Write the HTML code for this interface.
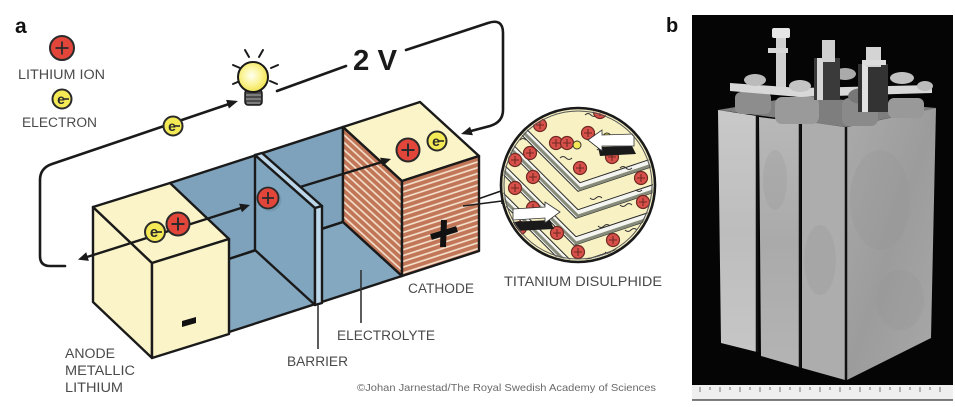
<!DOCTYPE html>
<html><head><meta charset="utf-8">
<style>
html,body{margin:0;padding:0;background:#fff;}
svg{display:block;}
text{font-family:"Liberation Sans",sans-serif;}
</style></head>
<body>
<svg width="955" height="407" viewBox="0 0 955 407" xmlns="http://www.w3.org/2000/svg">
<defs>
  <pattern id="stripeF" width="10" height="5.5" patternUnits="userSpaceOnUse" patternTransform="rotate(-18)">
    <rect width="10" height="5.5" fill="#c27658"/>
    <rect y="3.8" width="10" height="1.6" fill="#f6e4d0"/>
  </pattern>
  <pattern id="stripeL" width="10" height="5.5" patternUnits="userSpaceOnUse" patternTransform="rotate(42.5)">
    <rect width="10" height="5.5" fill="#c27658"/>
    <rect y="3.8" width="10" height="1.6" fill="#f6e4d0"/>
  </pattern>
  <clipPath id="circ"><circle cx="578" cy="185" r="75"/></clipPath>
  <radialGradient id="bulbg" cx="0.45" cy="0.45" r="0.6">
    <stop offset="0" stop-color="#fffff2"/>
    <stop offset="0.5" stop-color="#fbf49a"/>
    <stop offset="1" stop-color="#efe043"/>
  </radialGradient>
  <linearGradient id="s1" x1="0" y1="0" x2="0" y2="1">
    <stop offset="0" stop-color="#c9c9c9"/><stop offset="0.5" stop-color="#bdbdbd"/><stop offset="1" stop-color="#c6c6c6"/>
  </linearGradient>
  <linearGradient id="s2" x1="0" y1="0" x2="0" y2="1">
    <stop offset="0" stop-color="#b8b8b8"/><stop offset="0.5" stop-color="#aaaaaa"/><stop offset="1" stop-color="#b4b4b4"/>
  </linearGradient>
  <linearGradient id="s4" x1="0" y1="0" x2="1" y2="1">
    <stop offset="0" stop-color="#aaaaaa"/><stop offset="0.5" stop-color="#9c9c9c"/><stop offset="1" stop-color="#a8a8a8"/>
  </linearGradient>
</defs>

<!-- ============ PANEL A ============ -->
<text x="15" y="33" font-size="21" font-weight="bold" fill="#111">a</text>

<!-- legend -->
<circle cx="62" cy="48" r="12" fill="#e2463b" stroke="#2a2a2a" stroke-width="2"/>
<path d="M55.5,48 h13 M62,41.5 v13" stroke="#2a2a2a" stroke-width="1.8"/>
<text x="18" y="79" font-size="13.5" fill="#4a4a4a" textLength="87" lengthAdjust="spacingAndGlyphs">LITHIUM ION</text>
<circle cx="62" cy="99" r="9.5" fill="#f4ea55" stroke="#2a2a2a" stroke-width="2"/>
<text x="61" y="104" font-size="14" font-weight="bold" fill="#2a2a2a" text-anchor="middle">e</text>
<path d="M64,99 h5" stroke="#2a2a2a" stroke-width="1.6"/>
<text x="22" y="127" font-size="13.5" fill="#4a4a4a" textLength="75" lengthAdjust="spacingAndGlyphs">ELECTRON</text>

<!-- circuit wire left -->
<path d="M65,266 L50,266 Q40,266 40,256 L40,180 Q40,168 52,164 L229,104" fill="none" stroke="#1a1a1a" stroke-width="2.6" stroke-linecap="round"/>
<polygon points="238,101 228.9,108.5 226.1,99.9" fill="#1a1a1a"/>
<!-- electron on wire -->
<circle cx="173" cy="126" r="9.5" fill="#f4ea55" stroke="#2a2a2a" stroke-width="2"/>
<text x="172" y="131" font-size="14" font-weight="bold" fill="#2a2a2a" text-anchor="middle">e</text>
<path d="M175,126 h5" stroke="#2a2a2a" stroke-width="1.6"/>

<!-- bulb -->
<g stroke="#1a1a1a" stroke-width="2" stroke-linecap="round">
  <line x1="233" y1="65" x2="240" y2="68"/>
  <line x1="245" y1="50" x2="249" y2="57"/>
  <line x1="263" y1="50" x2="259" y2="57"/>
  <line x1="278" y1="65" x2="271" y2="68"/>
  <line x1="277" y1="84" x2="270" y2="81"/>
  <line x1="233" y1="84" x2="240" y2="81"/>
</g>
<rect x="245" y="90" width="17" height="15" rx="3" fill="#4a4a4a" stroke="#1a1a1a" stroke-width="1.5"/>
<path d="M246,95 h15 M246,99 h15 M247,103 h13" stroke="#9a9a9a" stroke-width="1.2"/>
<circle cx="253" cy="77" r="15" fill="url(#bulbg)" stroke="#1a1a1a" stroke-width="2"/>

<!-- wire right -->
<path d="M277,91 L346,66" fill="none" stroke="#1a1a1a" stroke-width="2.6" stroke-linecap="round"/>
<text x="353" y="70" font-size="29" font-weight="bold" fill="#1a1a1a" textLength="44" lengthAdjust="spacingAndGlyphs">2 V</text>
<path d="M406,50 L488,23 Q503,18 503,33 L503,110 Q503,122 490,126 L471,131" fill="none" stroke="#1a1a1a" stroke-width="2.6" stroke-linecap="round"/>
<polygon points="461,134 470.1,126.7 472.9,135.3" fill="#1a1a1a"/>

<!-- ===== battery ===== -->
<g stroke="#1a1a1a" stroke-width="2.4" stroke-linejoin="round">
  <polygon points="170,183 343,127 343,222 170,278" fill="#7ea2bb"/>
  <polygon points="170,278 343,222 402,276 229,332" fill="#84a8c0"/>
  <polygon points="343,127 402,181 402,276 343,222" fill="url(#stripeL)"/>
  <polygon points="343,127 420,102 479,156 402,181" fill="#faf4c8"/>
  <polygon points="402,181 479,156 479,251 402,276" fill="url(#stripeF)"/>
  <polygon points="255,155 315,208 315,305 255,250" fill="#80a5be"/>
  <polygon points="255,155 262,153 322,206 315,208" fill="#bcd6ea"/>
  <polygon points="315,208 322,206 322,303 315,305" fill="#bcd6ea"/>
  <polygon points="93,207 152,263 152,358 93,302" fill="#faf4c8"/>
  <polygon points="93,207 170,183 229,239 152,263" fill="#faf4c8"/>
  <polygon points="152,263 229,239 229,334 152,358" fill="#faf4c8"/>
</g>
<line x1="322" y1="229" x2="343" y2="222" stroke="#1a1a1a" stroke-width="2"/>
<line x1="229" y1="259" x2="255" y2="250" stroke="#1a1a1a" stroke-width="2"/>

<!-- anode minus -->
<polygon points="182,321 196,317 196,323 182,327" fill="#111"/>
<!-- cathode plus -->
<path d="M444,220 L443,247 M431,237 L457,229" stroke="#111" stroke-width="6"/>

<!-- double arrow on anode -->
<line x1="87" y1="257" x2="241" y2="208" stroke="#1a1a1a" stroke-width="2.4"/>
<polygon points="250,205 241.9,212.2 239.1,203.6" fill="#1a1a1a"/>
<polygon points="78,259.6 86.2,252.3 88.9,260.9" fill="#1a1a1a"/>
<circle cx="155" cy="232" r="10" fill="#f4ea55" stroke="#2a2a2a" stroke-width="2"/>
<text x="154" y="237" font-size="15" font-weight="bold" fill="#2a2a2a" text-anchor="middle">e</text>
<path d="M157,232 h5" stroke="#2a2a2a" stroke-width="1.6"/>
<circle cx="178" cy="224" r="11.5" fill="#e2463b" stroke="#2a2a2a" stroke-width="2"/>
<path d="M171.5,224 h13 M178,217.5 v13" stroke="#2a2a2a" stroke-width="2"/>

<!-- arrow barrier -> cathode -->
<line x1="300" y1="187" x2="382" y2="162" stroke="#1a1a1a" stroke-width="2.4"/>
<polygon points="391,159 382.7,166.2 380.1,157.6" fill="#1a1a1a"/>
<circle cx="270" cy="200" r="11.5" fill="#6d8fa6" opacity="0.6"/>
<circle cx="268" cy="198" r="10.5" fill="#e2463b" stroke="#2a2a2a" stroke-width="1.8"/>
<path d="M262,198 h12 M268,192 v12" stroke="#2a2a2a" stroke-width="1.8"/>

<!-- cathode top ions -->
<circle cx="408" cy="150" r="11.5" fill="#e2463b" stroke="#2a2a2a" stroke-width="2"/>
<path d="M401.5,150 h13 M408,143.5 v13" stroke="#2a2a2a" stroke-width="2"/>
<circle cx="437" cy="141" r="9.5" fill="#f4ea55" stroke="#2a2a2a" stroke-width="2"/>
<text x="436" y="146" font-size="14" font-weight="bold" fill="#2a2a2a" text-anchor="middle">e</text>
<path d="M439,141 h5" stroke="#2a2a2a" stroke-width="1.6"/>

<!-- leader to magnifier -->
<path d="M463,206 L502,201 M478,199 L501,191 M502,186 L502,204" stroke="#1a1a1a" stroke-width="1.6" fill="none"/>

<!-- ===== magnifier circle ===== -->
<circle cx="578" cy="185" r="77" fill="#f7f1c4"/>
<g clip-path="url(#circ)">
  <g fill="none" stroke-linejoin="miter">
    <g stroke="#2a2a2a" stroke-width="8.5">
      <path d="M459,67 L579,187 L669,157"/>
      <path d="M457,94 L577,214 L667,184"/>
      <path d="M455,121 L575,241 L665,211"/>
      <path d="M453,148 L573,268 L663,238"/>
      <path d="M451,175 L571,295"/>
    </g>
    <g stroke="#f4f4f0" stroke-width="6.5">
      <path d="M459,67 L579,187 L669,157"/>
      <path d="M457,94 L577,214 L667,184"/>
      <path d="M455,121 L575,241 L665,211"/>
      <path d="M453,148 L573,268 L663,238"/>
      <path d="M451,175 L571,295"/>
    </g>
    <g stroke="#868b7a" stroke-width="3">
      <path d="M460,69 L580,189 L670,159"/>
      <path d="M458,96 L578,216 L668,186"/>
      <path d="M456,123 L576,243 L666,213"/>
      <path d="M454,150 L574,270 L664,240"/>
      <path d="M452,177 L572,297"/>
    </g>
  </g>
  <g fill="none" stroke="#333" stroke-width="1">
    <path d="M560,158 q3,-3 6,0 t6,0"/>
    <path d="M597,150 q3,-3 6,0 t6,0"/>
    <path d="M620,168 q3,-3 6,0 t6,0"/>
    <path d="M590,198 q3,3 6,0 t6,0"/>
    <path d="M620,205 q3,3 6,0 t6,0"/>
    <path d="M598,226 q3,3 6,0 t6,0"/>
    <path d="M625,230 q3,3 6,0 t6,0"/>
    <path d="M545,112 q3,-3 6,0 t6,0"/>
    <path d="M585,115 q3,-3 6,0 t6,0"/>
    <path d="M520,140 q3,-3 6,0"/>
    <path d="M605,252 q3,3 6,0"/>
    <path d="M636,190 q3,3 6,0"/>
  </g>
  <g fill="#d9504a" stroke="#6e2a22" stroke-width="1.2">
    <circle cx="540" cy="125" r="6.5"/><circle cx="515" cy="160" r="6.5"/>
    <circle cx="556" cy="143" r="6.5"/><circle cx="567" cy="143" r="6.5"/>
    <circle cx="580" cy="168" r="6.5"/><circle cx="588" cy="133" r="6.5"/>
    <circle cx="612" cy="157" r="6.5"/><circle cx="533" cy="177" r="6.5"/>
    <circle cx="515" cy="188" r="6.5"/><circle cx="533" cy="208" r="6.5"/>
    <circle cx="557" cy="233" r="6.5"/><circle cx="578" cy="252" r="6.5"/>
    <circle cx="613" cy="240" r="6.5"/><circle cx="641" cy="178" r="6.5"/>
    <circle cx="643" cy="202" r="6.5"/><circle cx="530" cy="153" r="6.5"/>
    <circle cx="600" cy="112" r="6.5"/><circle cx="520" cy="228" r="6.5"/>
  </g>
  <g stroke="#6e2a22" stroke-width="1.1">
    <path d="M536,125h8M540,121v8 M511,160h8M515,156v8 M552,143h8M556,139v8 M563,143h8M567,139v8 M576,168h8M580,164v8 M584,133h8M588,129v8 M608,157h8M612,153v8 M529,177h8M533,173v8 M511,188h8M515,184v8 M529,208h8M533,204v8 M553,233h8M557,229v8 M574,252h8M578,248v8 M609,240h8M613,236v8 M637,178h8M641,174v8 M639,202h8M643,198v8 M526,153h8M530,149v8 M596,112h8M600,108v8 M516,228h8M520,224v8"/>
  </g>
  <circle cx="577" cy="145" r="4" fill="#f4ea55" stroke="#333" stroke-width="1"/>
  <circle cx="607" cy="137" r="4" fill="#f4ea55" stroke="#333" stroke-width="1"/>
  <polygon points="598,147 632,146 636,154 600,156" fill="#1a1a1a"/>
  <polygon points="588,140 602,130 602,135 634,134 634,146 602,146 602,151" fill="#fff" stroke="#333" stroke-width="0.8"/>
  <polygon points="512,222 550,220 554,229 514,231" fill="#1a1a1a"/>
  <polygon points="560,212 545,202 545,207 513,209 513,220 545,218 545,223" fill="#fff" stroke="#333" stroke-width="0.8"/>
</g>
<circle cx="578" cy="185" r="77" fill="none" stroke="#1a1a1a" stroke-width="2.6"/>
<circle cx="578" cy="185" r="74" fill="none" stroke="#555" stroke-width="1"/>

<!-- labels -->
<g font-size="13.5" fill="#4a4a4a">
  <text x="65" y="358" textLength="50" lengthAdjust="spacingAndGlyphs">ANODE</text>
  <text x="65" y="375" textLength="70" lengthAdjust="spacingAndGlyphs">METALLIC</text>
  <text x="65" y="392" textLength="58" lengthAdjust="spacingAndGlyphs">LITHIUM</text>
  <text x="287" y="366" textLength="61" lengthAdjust="spacingAndGlyphs">BARRIER</text>
  <text x="337" y="340" textLength="98" lengthAdjust="spacingAndGlyphs">ELECTROLYTE</text>
  <text x="408" y="293" textLength="66" lengthAdjust="spacingAndGlyphs">CATHODE</text>
  <text x="504" y="286" textLength="158" lengthAdjust="spacingAndGlyphs">TITANIUM DISULPHIDE</text>
</g>
<line x1="318" y1="305" x2="318" y2="349" stroke="#333" stroke-width="1.6"/>
<line x1="361" y1="270" x2="361" y2="323" stroke="#333" stroke-width="1.6"/>
<text x="357" y="391" font-size="10.5" fill="#6a6a6a" textLength="299" lengthAdjust="spacingAndGlyphs">©Johan Jarnestad/The Royal Swedish Academy of Sciences</text>

<!-- ============ PANEL B ============ -->
<text x="666" y="32" font-size="20" font-weight="bold" fill="#111">b</text>
<rect x="692" y="15" width="261" height="370" fill="#050505"/>
<polygon points="718,110 800,96 936,108 846,127" fill="#7e7e7e"/>
<polygon points="718,110 757,116 757,352 721,343" fill="url(#s1)"/>
<polygon points="759,117 799,122 799,367 761,356" fill="url(#s2)"/>
<polygon points="802,121 845,127 845,380 802,368" fill="#adadad"/>
<polygon points="847,127 936,108 931,338 847,380" fill="url(#s4)"/>
<path d="M757,116 V352 M800,121 V368 M846,127 V380" stroke="#111" stroke-width="2.5"/>
<g fill="#959595" opacity="0.25">
  <ellipse cx="880" cy="200" rx="30" ry="50"/>
  <ellipse cx="820" cy="260" rx="16" ry="35"/>
  <ellipse cx="775" cy="180" rx="12" ry="30"/>
  <ellipse cx="900" cy="300" rx="24" ry="30"/>
</g>
<g>
  <rect x="735" y="92" width="36" height="22" rx="6" fill="#8d8d8d"/>
  <rect x="775" y="97" width="44" height="27" rx="7" fill="#9a9a9a"/>
  <rect x="842" y="98" width="36" height="28" rx="7" fill="#8a8a8a"/>
  <rect x="888" y="98" width="36" height="20" rx="6" fill="#999"/>
  <polygon points="730,83 800,88 932,85 932,93 800,97 730,91" fill="#d8d8d8"/>
  <ellipse cx="755" cy="80" rx="11" ry="6" fill="#bbb"/>
  <ellipse cx="800" cy="86" rx="11" ry="6" fill="#c4c4c4"/>
  <ellipse cx="845" cy="74" rx="11" ry="6" fill="#aaa"/>
  <ellipse cx="902" cy="78" rx="12" ry="6" fill="#c0c0c0"/>
  <ellipse cx="925" cy="86" rx="8" ry="5" fill="#bbb"/>
  <ellipse cx="862" cy="96" rx="14" ry="8" fill="#777"/>
  <rect x="776" y="32" width="10" height="55" fill="#d0d0d0"/>
  <rect x="772" y="28" width="18" height="10" rx="2" fill="#e6e6e6"/>
  <rect x="768" y="48" width="20" height="5" fill="#d8d8d8"/>
  <rect x="814" y="58" width="26" height="42" fill="#3a3a3a"/>
  <rect x="817" y="58" width="6" height="42" fill="#d6d6d6"/>
  <rect x="822" y="40" width="13" height="22" fill="#cfcfcf"/>
  <rect x="858" y="64" width="30" height="48" fill="#333"/>
  <rect x="862" y="64" width="6" height="48" fill="#e0e0e0"/>
  <rect x="866" y="47" width="15" height="20" fill="#d4d4d4"/>
  <rect x="862" y="60" width="24" height="5" fill="#ddd"/>
</g>
<rect x="692" y="385" width="261" height="15" fill="#efefef"/>
<line x1="692" y1="400" x2="953" y2="400" stroke="#333" stroke-width="1.2"/>
<g stroke="#777" stroke-width="1">
  <path d="M700,387v5M710,387v3M720,387v5M730,387v3M740,387v5M750,387v3M760,387v5M770,387v3M780,387v5M790,387v3M800,387v5M810,387v3M820,387v5M830,387v3M840,387v5M850,387v3M860,387v5M870,387v3M880,387v5M890,387v3M900,387v5M910,387v3M920,387v5M930,387v3M940,387v5"/>
</g>
</svg>
</body></html>
